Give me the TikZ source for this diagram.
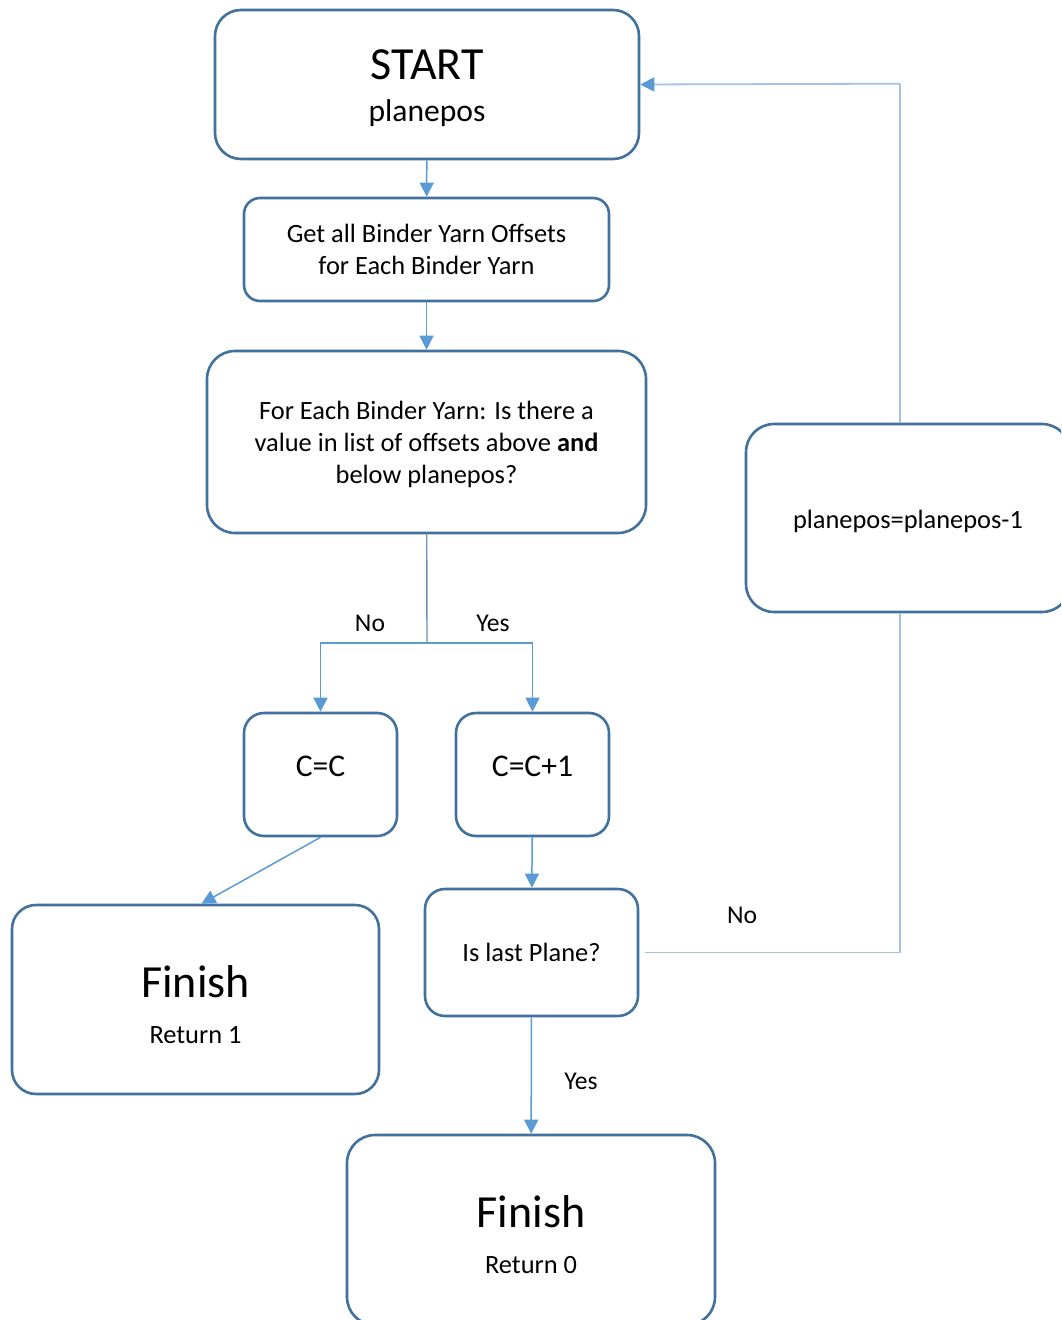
\documentclass[tikz,border=0pt]{standalone}
\usepackage{fontspec}
\setmainfont{Carlito}
\usetikzlibrary{arrows.meta,positioning,calc}

\definecolor{boxblue}{HTML}{41719C}
\definecolor{arrowblue}{HTML}{5B9BD5}
\definecolor{loopblue}{HTML}{A3C1E3}
\definecolor{stemblue}{HTML}{7090B4}

\tikzset{
  flowbox/.style={draw=boxblue, line width=1.3pt, fill=white, rounded corners=#1,
    align=center, inner sep=0pt, font=\fontsize{13.2}{16}\selectfont},
  flowbox/.default=9pt,
  arr/.style={arrowblue, line width=0.75pt, -{Triangle[width=7pt,length=7pt]}},
  looparr/.style={loopblue, line width=0.9pt,
    -{Triangle[width=7pt,length=7pt,fill=arrowblue,color=arrowblue]}},
  loopline/.style={loopblue, line width=0.9pt},
  stemline/.style={stemblue, line width=0.7pt},
  lbl/.style={font=\fontsize{12.8}{15}\selectfont}
}

\begin{document}
\begin{tikzpicture}[x=0.5pt,y=-0.5pt]
    \clip (0,0) rectangle (1061,1320);
    \fill[white] (0,0) rectangle (1061,1320);

    % Boxes
    \node[flowbox=13pt, minimum width=212pt, minimum height=74.5pt] (start) at (427,84.5)
        {\rule{0pt}{18.5pt}{\fontsize{23}{26}\selectfont START}\\[5pt]{\fontsize{15.8}{18}\selectfont planepos}};
    \node[flowbox=8pt, minimum width=182.5pt, minimum height=51.5pt] (getall) at (426.5,249.5)
        {Get all Binder Yarn Offsets\\for Each Binder Yarn};
    \node[flowbox=14pt, minimum width=219.5pt, minimum height=91pt] (foreach) at (426.5,442)
        {\rule{0pt}{12pt}For Each Binder Yarn: Is there a\\value in list of offsets above \textbf{and}\\below planepos?};
    \node[flowbox=14pt, minimum width=162pt, minimum height=94pt] (dec) at (908,518)
        {\rule{0pt}{13pt}planepos=planepos-1};
    \node[flowbox=10pt, minimum width=76.5pt, minimum height=61.5pt] (cc) at (320.5,774.5)
        {\raisebox{8pt}{\fontsize{15.8}{18}\selectfont C=C}};
    \node[flowbox=10pt, minimum width=76.5pt, minimum height=61.5pt] (ccp1) at (532.5,774.5)
        {\raisebox{8pt}{\fontsize{15.8}{18}\selectfont C=C+1}};
    \node[flowbox=12pt, minimum width=183.5pt, minimum height=94.5pt] (fin1) at (195.5,999.5)
        {\rule{0pt}{21pt}{\fontsize{23}{26}\selectfont Finish}\\[7pt]Return 1};
    \node[flowbox=10pt, minimum width=106.5pt, minimum height=63.5pt] (last) at (531.5,952.5)
        {Is last Plane?};
    \node[flowbox=14pt, minimum width=184pt, minimum height=95pt] (fin0) at (531,1230)
        {\rule{0pt}{21pt}{\fontsize{23}{26}\selectfont Finish}\\[7pt]Return 0};

    % Connectors
    \draw[arr] (start) -- (getall);
    \draw[arr] (getall) -- (foreach);
    \coordinate (split) at (427,643);
    \draw[stemline] (foreach) -- (split);
    \draw[arr] (split) -| (cc);
    \draw[arr] (split) -| (ccp1);
    \draw[arr] (cc.south) -- ([xshift=3pt]fin1.north);
    \draw[arr] (ccp1) -- (last);
    \draw[arr] (last) -- (fin0);
    \draw[loopline] ([xshift=3pt]last.east) -| ([xshift=-4pt]dec.south);
    \draw[loopline] ([xshift=-4pt]dec.north) -- ++(0,-339) coordinate (bend);
    \draw[looparr] (bend) -- (start.east);

    % Labels
    \node[lbl] at (370,623) {No};
    \node[lbl] at (493,623) {Yes};
    \node[lbl] at (742,915) {No};
    \node[lbl] at (581,1081) {Yes};
\end{tikzpicture}
\end{document}
